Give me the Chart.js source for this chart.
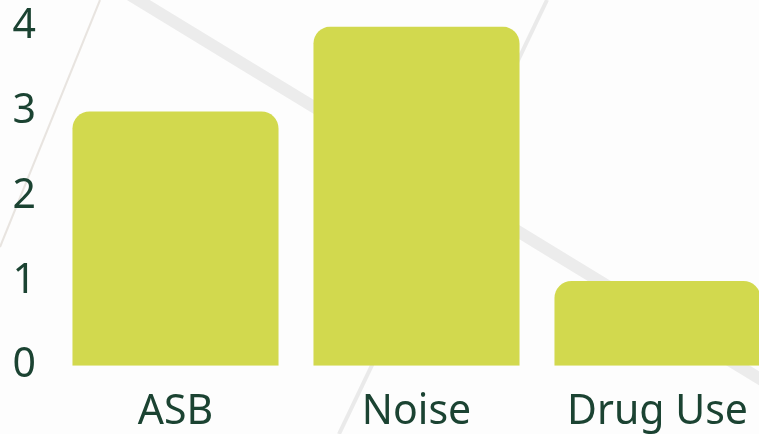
<!DOCTYPE html>
<html>
<head>
<meta charset="utf-8">
<script src="https://cdn.jsdelivr.net/npm/chart.js@4"></script>
<style>
  html, body { margin: 0; padding: 0; overflow: hidden; background: #fdfdfd; }
  .bg { position: absolute; left: 0; top: 0; width: 759px; height: 434px; }
  .GraphContainer { position: relative; width: 778px; height: 476px; margin-top: -17px; }
</style>
</head>
<body>
<svg class="bg" width="759" height="434">
  <line x1="130" y1="-5" x2="770" y2="385" stroke="#ececec" stroke-width="12"/>
  <line x1="100" y1="0" x2="0" y2="247" stroke="#e8e4e0" stroke-width="2"/>
  <line x1="547" y1="0" x2="339" y2="434" stroke="#eaeaea" stroke-width="4"/>
</svg>
<div class="GraphContainer">
  <canvas id="myChart"></canvas>
</div>
<script>
const categories = ["ASB", "Noise", "Drug Use"];
const counts = [3, 4, 1];
const yTicks = [0, 1, 2, 3, 4];

const textColor = "#1b4332";
const font = { family: "'Noto Sans', sans-serif", size: 41 };

new Chart(document.getElementById("myChart").getContext("2d"), {
  type: 'bar',
  data: {
    labels: categories,
    datasets: [
      {
        label: "Incidents",
        data: counts,
        backgroundColor: "#d2d94e",
        borderRadius: { topLeft: 17, topRight: 17 },
        borderSkipped: false,
        barPercentage: 0.855,
        categoryPercentage: 1
      }
    ]
  },
  options: {
    responsive: true,
    maintainAspectRatio: false,
    animation: false,
    layout: { padding: 0 },
    plugins: { legend: { display: false }, tooltip: { enabled: false } },
    scales: {
      x: {
        grid: { display: false, drawTicks: false },
        border: { display: false },
        ticks: { color: textColor, font: font, padding: 22 }
      },
      y: {
        min: yTicks[0],
        max: yTicks[yTicks.length - 1],
        grid: { display: false, drawTicks: false },
        border: { display: false },
        afterBuildTicks: axis => { axis.ticks = yTicks.map(v => ({ value: v })); },
        afterFit: axis => { axis.width = 55; },
        ticks: { color: textColor, font: font, padding: 19 }
      }
    }
  }
});
</script>
</body>
</html>
